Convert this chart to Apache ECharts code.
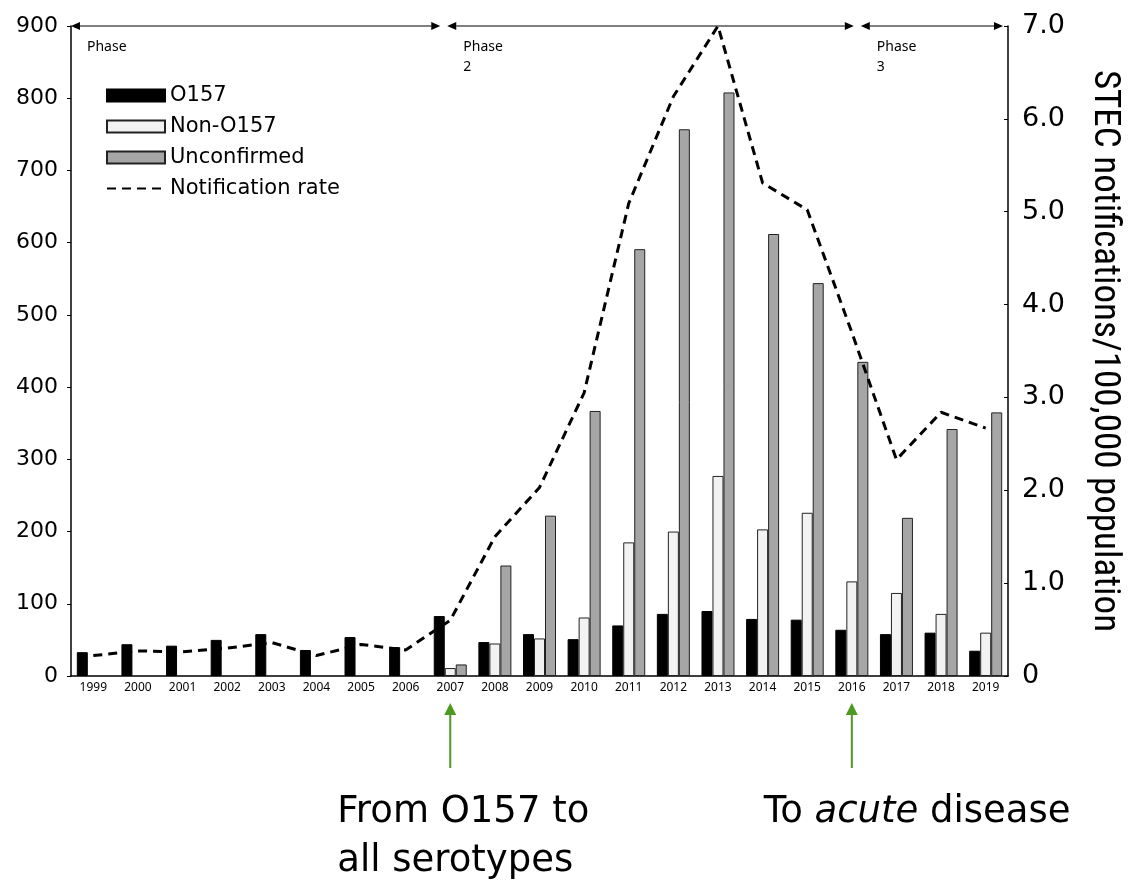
<!DOCTYPE html>
<html>
<head>
<meta charset="utf-8">
<script src="https://cdn.jsdelivr.net/npm/echarts@6/dist/echarts.min.js"></script>
<style>
  html, body { margin: 0; padding: 0; background: #fff; }
  #chart { width: 1140px; height: 880px; }
</style>
</head>
<body>
<div id="chart"></div>
<script>
// Data
const years = ['1999', '2000', '2001', '2002', '2003', '2004', '2005', '2006', '2007', '2008',
  '2009', '2010', '2011', '2012', '2013', '2014', '2015', '2016', '2017', '2018', '2019'];
const o157 = [33, 44, 42, 50, 58, 36, 54, 40, 83, 47, 58, 51, 70, 86, 90, 79, 78, 64, 58, 60, 35];
const nonO157 = [null, null, null, null, null, null, null, null, 11, 45, 52, 81, 185, 200, 277, 203, 226, 131, 115, 86, 60];
const unconfirmed = [null, null, null, null, null, null, null, null, 16, 153, 222, 367, 591, 757, 808, 612, 544, 435, 219, 342, 365];
const notificationRate = [0.22, 0.27, 0.26, 0.30, 0.36, 0.22, 0.34, 0.28, 0.60, 1.50, 2.03, 3.05, 5.09, 6.24, 7.0, 5.31, 5.02, 3.70, 2.33, 2.84, 2.67];

const countAxis = { min: 0, max: 900, interval: 100 };
const rateAxis = { min: 0, max: 7, interval: 1 };

// phase spans: start/end years (null = edge of the plot)
const phases = [
  { label: 'Phase', from: null, to: '2007' },
  { label: 'Phase\n2', from: '2007', to: '2016' },
  { label: 'Phase\n3', from: '2016', to: null }
];
const changes = [
  { year: '2007', text: 'From O157 to\nall serotypes' },
  { year: '2016', text: '{n|To }{i|acute}{n| disease}' }
];

const chart = echarts.init(document.getElementById('chart'));
const GRID = { left: 71, right: 132, top: 26, bottom: 204 };
const baseFont = 'DejaVu Sans';

const option = {
  animation: false,
  backgroundColor: '#fff',
  grid: GRID,
  legend: {
    orient: 'vertical',
    left: 101,
    top: 80,
    itemWidth: 58,
    itemHeight: 12,
    itemGap: 10,
    textStyle: { fontFamily: baseFont, fontSize: 21, color: '#000' },
    data: [
      { name: 'O157', icon: 'rect' },
      { name: 'Non-O157', icon: 'rect' },
      { name: 'Unconfirmed', icon: 'rect' },
      { name: 'Notification rate', itemStyle: { opacity: 0 } }
    ]
  },
  xAxis: {
    type: 'category',
    data: years,
    axisLine: { lineStyle: { color: '#000', width: 1.5 } },
    axisTick: { show: false },
    axisLabel: { color: '#000', fontSize: 12, fontFamily: 'Noto Sans', margin: 6 }
  },
  yAxis: [
    {
      type: 'value',
      min: countAxis.min, max: countAxis.max, interval: countAxis.interval,
      axisLine: { show: true, lineStyle: { color: '#000', width: 1.5 } },
      axisTick: { show: true, length: 4, lineStyle: { color: '#000' } },
      splitLine: { show: false },
      axisLabel: { color: '#000', fontSize: 22, fontFamily: baseFont, margin: 13 }
    },
    {
      type: 'value',
      position: 'right',
      min: rateAxis.min, max: rateAxis.max, interval: rateAxis.interval,
      name: 'STEC notifications/100,000 population',
      nameLocation: 'middle',
      nameRotate: -90,
      nameGap: 78,
      nameTextStyle: { color: '#000', fontSize: 37, fontFamily: 'Liberation Sans Narrow, Roboto Condensed, sans-serif' },
      axisLine: { show: true, lineStyle: { color: '#000', width: 1.5 } },
      axisTick: { show: true, inside: true, length: 4, lineStyle: { color: '#000' } },
      splitLine: { show: false },
      axisLabel: {
        color: '#000', fontSize: 27, fontFamily: baseFont, margin: 14,
        formatter: v => (v === 0 ? '0' : v.toFixed(1))
      }
    }
  ],
  series: [
    {
      name: 'O157', type: 'bar', data: o157,
      barWidth: 11, barGap: '0%',
      itemStyle: { color: '#000', borderColor: '#000', borderWidth: 1 }
    },
    {
      name: 'Non-O157', type: 'bar', data: nonO157,
      barWidth: 11, barGap: '0%',
      itemStyle: { color: '#f2f2f2', borderColor: '#222', borderWidth: 1 }
    },
    {
      name: 'Unconfirmed', type: 'bar', data: unconfirmed,
      barWidth: 11, barGap: '0%',
      itemStyle: { color: '#a6a6a6', borderColor: '#222', borderWidth: 1 }
    },
    {
      name: 'Notification rate', type: 'line', yAxisIndex: 1, data: notificationRate,
      symbol: 'none', z: 5,
      lineStyle: { color: '#000', width: 3, type: [9, 6] },
      itemStyle: { color: '#000' }
    }
  ]
};
chart.setOption(option);

// Annotations positioned through the axis scales
const xOf = y => chart.convertToPixel({ xAxisIndex: 0 }, y);
const plotLeft = GRID.left;
const plotRight = 1140 - GRID.right;
const topY = chart.convertToPixel({ yAxisIndex: 0 }, countAxis.max);
const baseY = chart.convertToPixel({ yAxisIndex: 0 }, 0);

function doubleArrow(x1, x2, y) {
  const h = 9, w = 4;
  return [
    { type: 'line', shape: { x1: x1 + h, y1: y, x2: x2 - h, y2: y }, style: { stroke: '#000', lineWidth: 1.2 } },
    { type: 'polygon', shape: { points: [[x1, y], [x1 + h, y - w], [x1 + h, y + w]] }, style: { fill: '#000' } },
    { type: 'polygon', shape: { points: [[x2, y], [x2 - h, y - w], [x2 - h, y + w]] }, style: { fill: '#000' } }
  ];
}

const graphics = [];
phases.forEach(p => {
  const x1 = p.from ? xOf(p.from) + (p.from === '2007' ? -3 : 9) : plotLeft;
  const x2 = p.to ? xOf(p.to) + (p.to === '2007' ? -10 : 2) : plotRight - 5;
  graphics.push(...doubleArrow(x1, x2, topY));
  graphics.push({
    type: 'text', x: x1 + 16, y: topY + 11,
    style: { text: p.label, fill: '#000', font: '14px "Noto Sans"', lineHeight: 20 }
  });
});

changes.forEach((c, i) => {
  const x = xOf(c.year);
  const tip = baseY + 27, tail = baseY + 92;
  graphics.push({ type: 'line', shape: { x1: x, y1: tail, x2: x, y2: tip + 10 }, style: { stroke: '#4d9a22', lineWidth: 2 } });
  graphics.push({ type: 'polygon', shape: { points: [[x, tip], [x - 6, tip + 12], [x + 6, tip + 12]] }, style: { fill: '#4d9a22' } });
  graphics.push({
    type: 'text',
    x: i === 0 ? x - 113 : x - 88,
    y: baseY + 112,
    style: i === 0
      ? { text: c.text, fill: '#000', font: '37px "DejaVu Sans"', lineHeight: 49 }
      : {
          text: c.text, fill: '#000',
          rich: {
            n: { fontFamily: 'DejaVu Sans', fontSize: 37, lineHeight: 49, fill: '#000' },
            i: { fontFamily: 'DejaVu Sans', fontSize: 37, lineHeight: 49, fontStyle: 'italic', fill: '#000' }
          }
        }
  });
});

chart.setOption({ graphic: graphics });
</script>
</body>
</html>
